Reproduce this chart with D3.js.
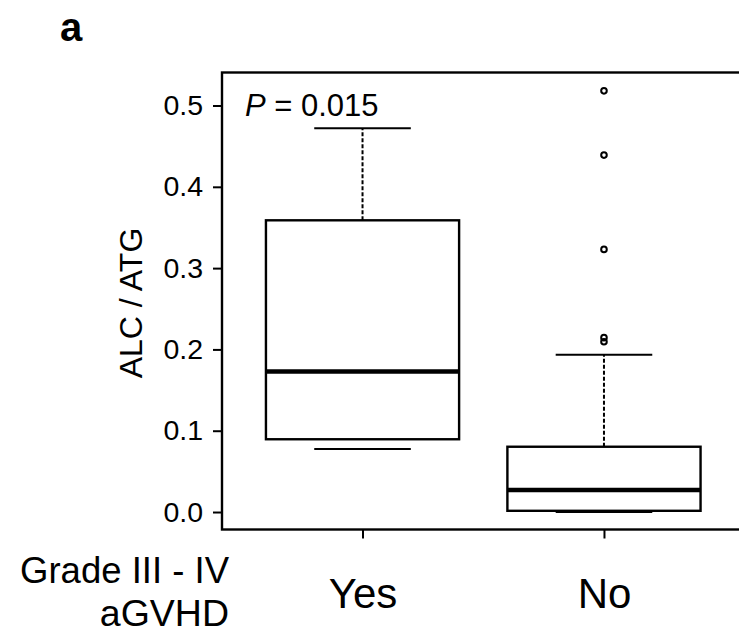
<!DOCTYPE html>
<html>
<head>
    <script src="https://d3js.org/d3.v7.min.js"></script>
    <style>
        body { margin: 0; background: #fff; }
        text { font-family: "Liberation Sans", Arial, Helvetica, sans-serif; fill: #000; }
        .axis path.domain { stroke: none; }
        .axis line { stroke: #000; stroke-width: 2px; }
    </style>
</head>
<body>
    <svg id="chart" width="739" height="638"></svg>
    <script>
        // box statistics
        const groups = ["Yes", "No"];
        const lowerWhisker = [0.0775, 0.0];
        const q1 = [0.0895, 0.0015];
        const median = [0.1727, 0.0272];
        const q3 = [0.3588, 0.0803];
        const upperWhisker = [0.472, 0.1935];
        const outliers = [[], [0.518, 0.439, 0.323, 0.2145, 0.2095]];
        const yTicks = [0.0, 0.1, 0.2, 0.3, 0.4, 0.5];
        const pLabel = "0.015";

        const svg = d3.select("svg#chart");
        const plot = { left: 222, right: 744.5, top: 72.5, bottom: 529.5 };

        const x = d3.scaleLinear().domain([0.418, 2.582]).range([plot.left, plot.right]);
        const y = d3.scaleLinear().domain([-0.0215, 0.5406]).range([plot.bottom, plot.top]);

        const boxes = groups.map((g, i) => ({
            name: g, pos: i + 1,
            lo: lowerWhisker[i], q1: q1[i], med: median[i], q3: q3[i], hi: upperWhisker[i],
            out: outliers[i]
        }));

        // y axis
        svg.append("g")
            .attr("class", "axis")
            .attr("transform", `translate(${plot.left},0)`)
            .call(d3.axisLeft(y).tickValues(yTicks).tickSize(9).tickPadding(10).tickFormat(d3.format(".1f")))
            .selectAll("text")
            .style("font-size", "28.5px")
            .style("font-family", "Liberation Sans, Arial, sans-serif");

        // x axis
        svg.append("g")
            .attr("class", "axis")
            .attr("transform", `translate(0,${plot.bottom})`)
            .call(d3.axisBottom(x).tickValues(boxes.map(d => d.pos)).tickSize(9).tickPadding(40)
                .tickFormat((d, i) => groups[i]))
            .selectAll("text")
            .style("font-size", "42px")
            .style("font-family", "Liberation Sans, Arial, sans-serif");

        const g = svg.append("g");

        // whiskers (dashed)
        g.selectAll("line.whisk-up").data(boxes).join("line")
            .attr("x1", d => x(d.pos)).attr("x2", d => x(d.pos))
            .attr("y1", d => y(d.q3)).attr("y2", d => y(d.hi))
            .attr("stroke", "#000").attr("stroke-width", 2).attr("stroke-dasharray", "4,2");
        g.selectAll("line.whisk-lo").data(boxes).join("line")
            .attr("x1", d => x(d.pos)).attr("x2", d => x(d.pos))
            .attr("y1", d => y(d.q1)).attr("y2", d => y(d.lo))
            .attr("stroke", "#000").attr("stroke-width", 2).attr("stroke-dasharray", "0,12,4,2");

        // whisker caps
        ["hi", "lo"].forEach(k => {
            g.selectAll("line.cap-" + k).data(boxes).join("line")
                .attr("x1", d => x(d.pos - 0.2)).attr("x2", d => x(d.pos + 0.2))
                .attr("y1", d => y(d[k])).attr("y2", d => y(d[k]))
                .attr("stroke", "#000").attr("stroke-width", 2);
        });

        // boxes
        g.selectAll("rect.box").data(boxes).join("rect")
            .attr("x", d => x(d.pos - 0.4))
            .attr("width", d => x(d.pos + 0.4) - x(d.pos - 0.4))
            .attr("y", d => y(d.q3))
            .attr("height", d => y(d.q1) - y(d.q3))
            .attr("fill", "none").attr("stroke", "#000").attr("stroke-width", 2.4);

        // medians
        g.selectAll("line.med").data(boxes).join("line")
            .attr("x1", d => x(d.pos - 0.4)).attr("x2", d => x(d.pos + 0.4))
            .attr("y1", d => y(d.med)).attr("y2", d => y(d.med))
            .attr("stroke", "#000").attr("stroke-width", 4.5);

        // outliers
        boxes.forEach(b => {
            g.selectAll(null).data(b.out).join("circle")
                .attr("cx", x(b.pos)).attr("cy", d => y(d))
                .attr("r", 2.8)
                .attr("fill", "none").attr("stroke", "#000").attr("stroke-width", 2);
        });

        // frame
        svg.append("rect")
            .attr("x", plot.left).attr("y", plot.top)
            .attr("width", plot.right - plot.left).attr("height", plot.bottom - plot.top)
            .attr("fill", "none").attr("stroke", "#000").attr("stroke-width", 2.4);

        // y label
        svg.append("text")
            .attr("transform", `translate(142,${(plot.top + plot.bottom) / 2 + 2}) rotate(-90)`)
            .attr("text-anchor", "middle")
            .style("font-size", "32px")
            .text("ALC / ATG");

        // P value
        const pt = svg.append("text")
            .attr("x", 245).attr("y", 116)
            .style("font-size", "31px");
        pt.append("tspan").style("font-style", "italic").text("P");
        pt.append("tspan").text(" = " + pLabel);

        // row label under x axis
        svg.append("text")
            .attr("x", 229).attr("y", 583)
            .attr("text-anchor", "end")
            .style("font-size", "36.5px")
            .text("Grade III - IV");
        svg.append("text")
            .attr("x", 229).attr("y", 626)
            .attr("text-anchor", "end")
            .style("font-size", "37.5px")
            .text("aGVHD");

        // panel letter
        svg.append("text")
            .attr("x", 60).attr("y", 41)
            .style("font-size", "40px")
            .style("font-weight", "bold")
            .text("a");
    </script>
</body>
</html>
